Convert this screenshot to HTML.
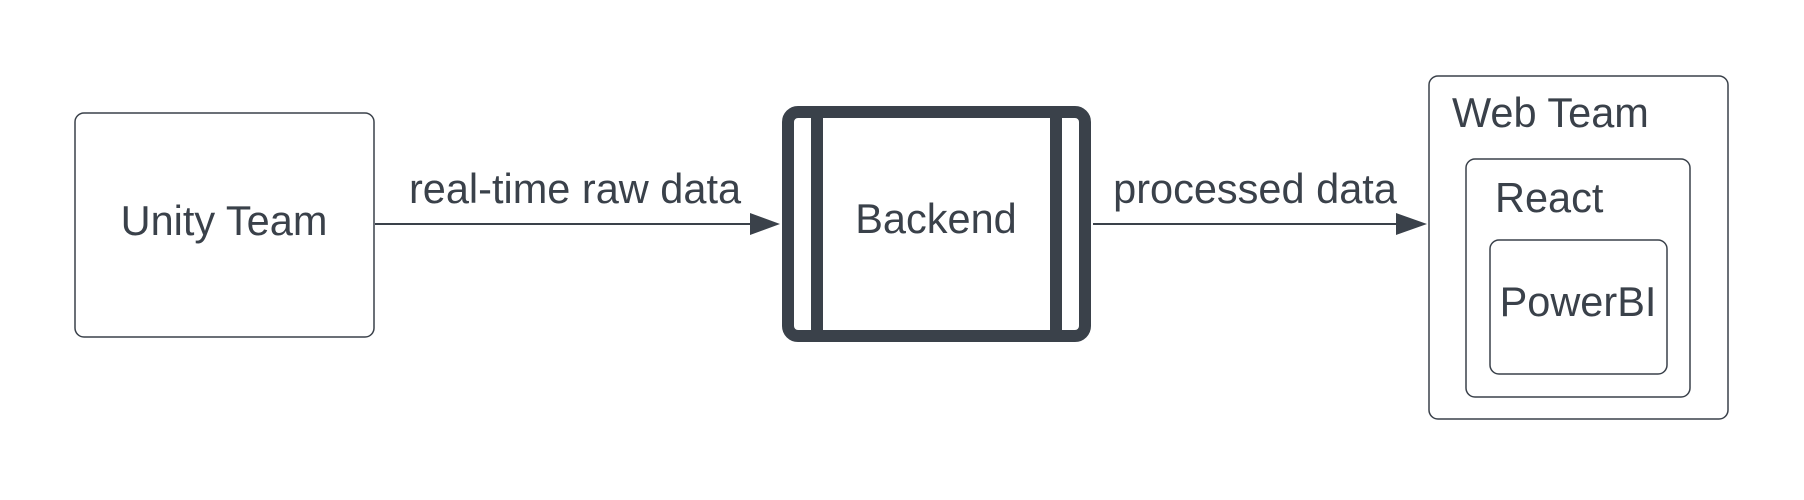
<!DOCTYPE html>
<html><head><style>
html,body{margin:0;padding:0;background:#fff;}
svg text{font-family:"Liberation Sans",sans-serif;fill:#3a414a;}
</style></head><body>
<svg width="1804" height="495" viewBox="0 0 1804 495" xmlns="http://www.w3.org/2000/svg">
<rect x="0" y="0" width="1804" height="495" fill="#fff"/>
<rect x="75" y="113" width="299" height="224" rx="9" fill="#fff" stroke="#3a414a" stroke-width="1.5"/>
<text x="224" y="235" font-size="41.5" text-anchor="middle">Unity Team</text>
<line x1="375" y1="224" x2="752" y2="224" stroke="#3a414a" stroke-width="2"/>
<polygon points="750,213 780,224 750,235" fill="#3a414a"/>
<text x="575" y="203" font-size="41.5" text-anchor="middle">real-time raw data</text>
<rect x="788" y="112" width="297" height="224" rx="10" fill="#fff" stroke="#3a414a" stroke-width="12"/>
<rect x="811" y="112" width="12" height="224" fill="#3a414a"/>
<rect x="1050" y="112" width="12" height="224" fill="#3a414a"/>
<text x="936" y="233" font-size="41.5" text-anchor="middle">Backend</text>
<line x1="1093" y1="224" x2="1398" y2="224" stroke="#3a414a" stroke-width="2"/>
<polygon points="1396,213 1427,224 1396,235" fill="#3a414a"/>
<text x="1255" y="203" font-size="41.5" text-anchor="middle">processed data</text>
<rect x="1429" y="76" width="299" height="343" rx="9" fill="#fff" stroke="#3a414a" stroke-width="1.5"/>
<text x="1452" y="127" font-size="41.5">Web Team</text>
<rect x="1466" y="159" width="224" height="238" rx="9" fill="#fff" stroke="#3a414a" stroke-width="1.5"/>
<text x="1495" y="212" font-size="41.5">React</text>
<rect x="1490" y="240" width="177" height="134" rx="9" fill="#fff" stroke="#3a414a" stroke-width="1.5"/>
<text x="1578" y="316" font-size="41.5" text-anchor="middle">PowerBI</text>
</svg>
</body></html>
